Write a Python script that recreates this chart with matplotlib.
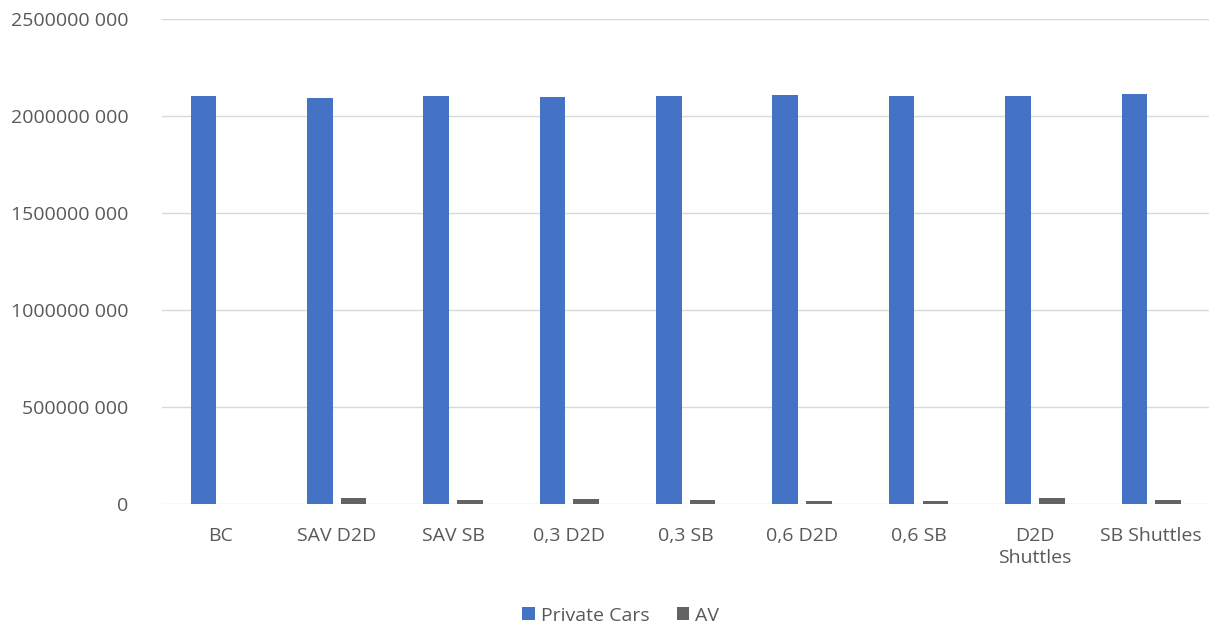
import numpy as np
import matplotlib.pyplot as plt
from matplotlib.ticker import FuncFormatter

categories = ["BC", "SAV D2D", "SAV SB", "0,3 D2D", "0,3 SB", "0,6 D2D", "0,6 SB", "D2D\nShuttles", "SB Shuttles"]
private_cars = [2107e6, 2097e6, 2105e6, 2102e6, 2105e6, 2110e6, 2105e6, 2105e6, 2114e6]
av = [0, 33e6, 22e6, 28e6, 22e6, 17e6, 16e6, 33e6, 22e6]

plt.rcParams['font.family'] = ['Open Sans', 'DejaVu Sans']
txt = '#595959'

fig = plt.figure(figsize=(12.18, 6.28), dpi=100)
ax = fig.add_axes([0.133, 0.197, 0.86, 0.772])

x = np.arange(len(categories))
w = 0.22
ax.bar(x - 0.145, private_cars, w, color='#4472C4', label='Private Cars', zorder=3)
ax.bar(x + 0.145, av, w, color='#636363', label='AV', zorder=3)

ax.set_xlim(-0.5, len(categories) - 0.5)
ax.set_ylim(0, 2.5e9)
ax.set_yticks(np.arange(0, 2.5e9 + 1, 5e8))

def fmt(v, pos):
    v = int(round(v))
    if v == 0:
        return "0"
    return f"{v // 1000} {v % 1000:03d}"

ax.yaxis.set_major_formatter(FuncFormatter(fmt))
ax.set_xticks(x)
ax.set_xticklabels(categories, linespacing=1.35)
ax.tick_params(axis='both', length=0, labelsize=14, labelcolor=txt)
ax.tick_params(axis='y', pad=24)
ax.tick_params(axis='x', pad=16)
ax.grid(axis='y', color='#D9D9D9', linewidth=1, zorder=0)
for s in ax.spines.values():
    s.set_visible(False)

leg = ax.legend(loc='upper center', bbox_to_anchor=(0.438, -0.175), ncol=2, frameon=False,
                fontsize=14, handlelength=0.65, handleheight=0.65, handletextpad=0.3, columnspacing=1.4)
for t in leg.get_texts():
    t.set_color(txt)

fig.savefig('out.png', dpi=100)
